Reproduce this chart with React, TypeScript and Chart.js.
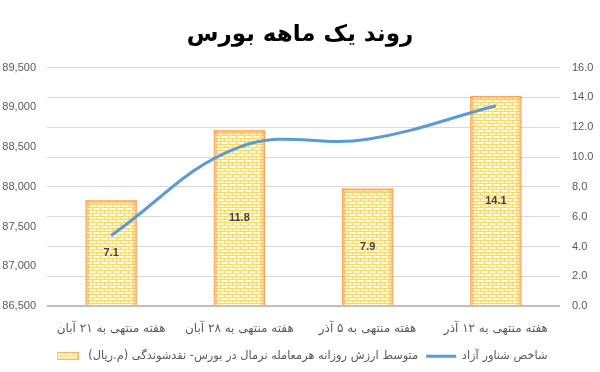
import React, { useEffect, useRef } from "react";
import { Chart, registerables } from "chart.js";

Chart.register(...registerables);

const title = "روند یک ماهه بورس";
const categories = [
  "هفته منتهی به ۲۱ آبان",
  "هفته منتهی به ۲۸ آبان",
  "هفته منتهی به ۵ آذر",
  "هفته منتهی به ۱۲ آذر",
];
const barLabel = "متوسط ارزش روزانه هرمعامله نرمال در بورس- نقدشوندگی (م.ریال)";
const lineLabel = "شاخص شناور آزاد";
const liquidityValues = [7.1, 11.8, 7.9, 14.1];
const indexValues = [87390, 88500, 88600, 89020];
const leftAxis = { min: 86500, max: 89500, step: 500 };
const rightAxis = { min: 0, max: 16, step: 2 };

function makeBrickTile(): HTMLCanvasElement {
  const c = document.createElement("canvas");
  c.width = 8;
  c.height = 6;
  const g = c.getContext("2d")!;
  g.fillStyle = "#fffbe9";
  g.fillRect(0, 0, 8, 6);
  g.fillStyle = "#ffd75e";
  g.fillRect(0, 0, 8, 1);
  g.fillRect(0, 3, 8, 1);
  g.fillRect(0, 1, 1, 2);
  g.fillRect(4, 4, 1, 2);
  return c;
}

function makeSwatch(tile: HTMLCanvasElement): HTMLCanvasElement {
  const c = document.createElement("canvas");
  c.width = 22;
  c.height = 8;
  const g = c.getContext("2d")!;
  g.fillStyle = g.createPattern(tile, "repeat")!;
  g.fillRect(0, 0, 22, 8);
  g.strokeStyle = "#f7b26b";
  g.lineWidth = 1;
  g.strokeRect(0.5, 0.5, 21, 7);
  return c;
}

export default function App() {
  const ref = useRef<HTMLCanvasElement>(null);

  useEffect(() => {
    document.body.style.margin = "0";
    const canvas = ref.current!;
    const tile = makeBrickTile();
    const pattern = canvas.getContext("2d")!.createPattern(tile, "repeat")!;
    const swatch = makeSwatch(tile);

    const glowPlugin = {
      id: "brickGlow",
      afterDatasetDraw(chart: any, args: any) {
        if (args.index !== 0) return;
        const ctx = chart.ctx;
        const meta = chart.getDatasetMeta(0);
        ctx.save();
        meta.data.forEach((bar: any) => {
          const { x, y, base, width } = bar.getProps(["x", "y", "base", "width"], true);
          const l = x - width / 2;
          const r = x + width / 2;
          const h = base - y;
          const d = 5;
          const edge = "rgba(247,160,80,0.75)";
          const clear = "rgba(247,160,80,0)";
          let g = ctx.createLinearGradient(l, 0, l + d, 0);
          g.addColorStop(0, edge);
          g.addColorStop(1, clear);
          ctx.fillStyle = g;
          ctx.fillRect(l, y, d, h);
          g = ctx.createLinearGradient(r, 0, r - d, 0);
          g.addColorStop(0, edge);
          g.addColorStop(1, clear);
          ctx.fillStyle = g;
          ctx.fillRect(r - d, y, d, h);
          g = ctx.createLinearGradient(0, y, 0, y + d);
          g.addColorStop(0, edge);
          g.addColorStop(1, clear);
          ctx.fillStyle = g;
          ctx.fillRect(l, y, width, d);
        });
        ctx.restore();
      },
      afterDatasetsDraw(chart: any) {
        const ctx = chart.ctx;
        const meta = chart.getDatasetMeta(0);
        ctx.save();
        ctx.font = "bold 11px 'Liberation Sans', sans-serif";
        ctx.fillStyle = "#404040";
        ctx.textAlign = "center";
        ctx.textBaseline = "middle";
        meta.data.forEach((bar: any, i: number) => {
          const { x, y, base } = bar.getProps(["x", "y", "base"], true);
          ctx.fillText(liquidityValues[i].toFixed(1), x, (y + base) / 2);
        });
        ctx.restore();
      },
    };

    const chart = new Chart(canvas, {
      type: "bar",
      data: {
        labels: categories,
        datasets: [
          {
            type: "bar",
            label: barLabel,
            data: liquidityValues,
            yAxisID: "yRight",
            backgroundColor: pattern as any,
            borderColor: "#f8b36c",
            borderWidth: 1,
            categoryPercentage: 0.8,
            barPercentage: 0.5,
            order: 2,
          },
          {
            type: "line",
            label: lineLabel,
            data: indexValues,
            yAxisID: "yLeft",
            borderColor: "#5b9bd5",
            backgroundColor: "#5b9bd5",
            borderWidth: 3,
            pointRadius: 0,
            tension: 0.4,
            fill: false,
            order: 1,
          } as any,
        ],
      },
      options: {
        responsive: false,
        animation: false,
        layout: { padding: { left: 0, right: 0, top: 0, bottom: 0 } },
        plugins: {
          title: {
            display: true,
            text: title,
            color: "#000000",
            font: { family: "'DejaVu Sans', sans-serif", size: 23, weight: "bold" },
            padding: { top: 21, bottom: 19 },
          },
          legend: {
            position: "bottom",
            textDirection: "rtl",
            labels: {
              usePointStyle: true,
              pointStyleWidth: 30,
              boxHeight: 8,
              padding: 8,
              color: "#595959",
              font: { family: "'DejaVu Sans', sans-serif", size: 11.4 },
              generateLabels: () => [
                {
                  text: barLabel,
                  fillStyle: pattern as any,
                  strokeStyle: "#f8b36c",
                  lineWidth: 0,
                  pointStyle: swatch as any,
                  datasetIndex: 0,
                  fontColor: "#595959",
                },
                {
                  text: lineLabel,
                  fillStyle: "#5b9bd5",
                  strokeStyle: "#5b9bd5",
                  lineWidth: 3,
                  pointStyle: "line",
                  datasetIndex: 1,
                  fontColor: "#595959",
                },
              ],
            },
          },
          tooltip: { enabled: false },
        },
        scales: {
          x: {
            grid: { display: false },
            border: { display: false },
            ticks: {
              color: "#595959",
              font: { family: "'DejaVu Sans', sans-serif", size: 12 },
              padding: 7,
              maxRotation: 0,
            },
          },
          yLeft: {
            type: "linear",
            position: "left",
            min: leftAxis.min,
            max: leftAxis.max,
            grid: { display: false, drawTicks: false },
            border: { display: false },
            afterFit: (s: any) => {
              s.width = 47;
            },
            ticks: {
              stepSize: leftAxis.step,
              color: "#595959",
              font: { family: "'Liberation Sans', sans-serif", size: 11 },
              padding: 11,
              callback: (v: any) => Number(v).toLocaleString("en-US"),
            },
          },
          yRight: {
            type: "linear",
            position: "right",
            min: rightAxis.min,
            max: rightAxis.max,
            grid: {
              drawTicks: false,
              color: (c: any) => (c.tick && c.tick.value === 0 ? "#bfbfbf" : "#d9d9d9"),
              lineWidth: (c: any) => (c.tick && c.tick.value === 0 ? 2 : 1),
            },
            border: { display: false },
            afterFit: (s: any) => {
              s.width = 40;
            },
            ticks: {
              stepSize: rightAxis.step,
              color: "#595959",
              font: { family: "'Liberation Sans', sans-serif", size: 11 },
              padding: 12,
              callback: (v: any) => Number(v).toFixed(1),
            },
          },
        },
      },
      plugins: [glowPlugin],
    } as any);

    return () => chart.destroy();
  }, []);

  return (
    <div style={{ width: 600, height: 372, position: "relative", background: "#fff" }}>
      <canvas ref={ref} width={600} height={372} style={{ display: "block" }} />
    </div>
  );
}
